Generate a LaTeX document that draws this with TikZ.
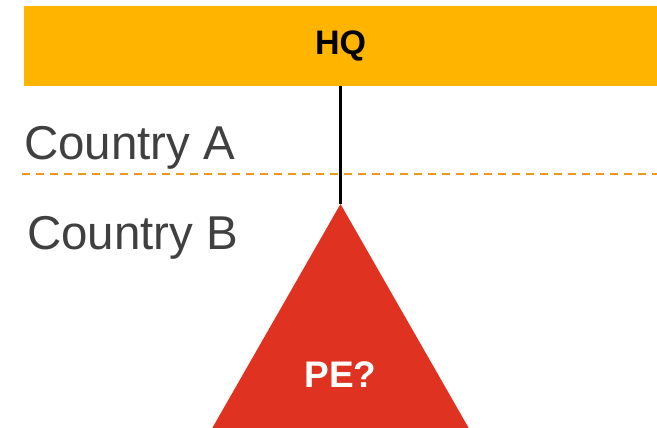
\documentclass[tikz,border=0pt]{standalone}
\usepackage{fontspec}
\setmainfont{Liberation Sans}
\definecolor{hqgold}{HTML}{FFB400}
\definecolor{peRed}{HTML}{E03220}
\definecolor{borderOrange}{HTML}{F0961E}
\definecolor{labelGray}{HTML}{404040}
\begin{document}
\begin{tikzpicture}[x=1pt,y=-1pt,
  hqbar/.style={fill=hqgold,draw=none,inner sep=0pt,font=\fontsize{34}{34}\selectfont\bfseries},
  countrylabel/.style={anchor=base west,inner sep=0pt,text=labelGray,font=\fontsize{47.5}{47.5}\selectfont},
  petext/.style={text=white,inner sep=0pt,font=\fontsize{37}{37}\selectfont\bfseries},
  border/.style={draw=borderOrange,line width=2pt,dash pattern=on 8pt off 6pt},
  link/.style={draw=black,line width=2.2pt}]
\useasboundingbox (0,0) rectangle (657,428);
% headquarters bar
\node[hqbar,minimum width=633pt,minimum height=80pt] (hq) at (340.5,46) {HQ};
% country labels and border
\node[countrylabel] (ca) at (24,160) {Country A};
\node[countrylabel] (cb) at (27,249) {Country B};
\coordinate (bl) at (22,174);
\coordinate (br) at (657,174);
\draw[border] (bl) -- (br);
% permanent establishment triangle
\coordinate (apex) at (340.5,204);
\coordinate (baseL) at (210,432);
\coordinate (baseR) at (471,432);
\fill[peRed] (apex) -- (baseR) -- (baseL) -- cycle;
\draw[link] (hq.south) -- (apex);
\node[petext] (pe) at (340.5,375) {PE?};
\end{tikzpicture}
\end{document}
